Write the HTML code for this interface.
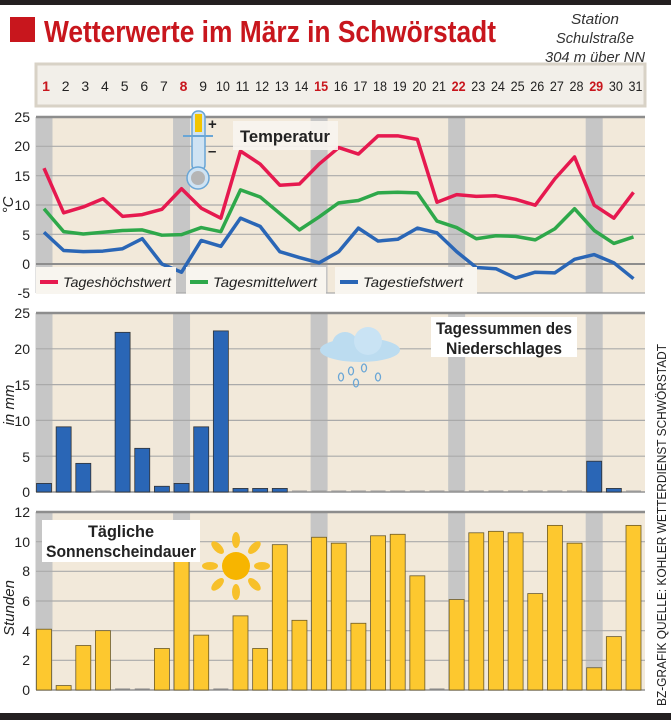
<!DOCTYPE html>
<html><head><meta charset="utf-8"><style>
body{margin:0;background:#fff;width:671px;height:720px;overflow:hidden}
svg{display:block}
text{font-family:"Liberation Sans",sans-serif}
</style></head><body>
<svg id="s" width="671" height="720" viewBox="0 0 671 720">
<rect x="0" y="0" width="671" height="5" fill="#231f20"/>
<rect x="0" y="713" width="671" height="7" fill="#231f20"/>
<rect x="10" y="17" width="25" height="25" fill="#c8161d"/>
<text x="44" y="42" font-size="31" font-weight="bold" fill="#c8161d" textLength="452" lengthAdjust="spacingAndGlyphs">Wetterwerte im März in Schwörstadt</text>
<text x="595" y="24" font-size="15" font-style="italic" fill="#333" text-anchor="middle" textLength="48" lengthAdjust="spacingAndGlyphs">Station</text>
<text x="595" y="43" font-size="15" font-style="italic" fill="#333" text-anchor="middle" textLength="78" lengthAdjust="spacingAndGlyphs">Schulstraße</text>
<text x="595" y="62" font-size="15" font-style="italic" fill="#333" text-anchor="middle" textLength="100" lengthAdjust="spacingAndGlyphs">304 m über NN</text>
<rect x="36" y="64" width="609" height="42" fill="#f2efe9" stroke="#d8d2c6" stroke-width="3"/>
<g id="days" font-size="14" text-anchor="middle" fill="#222"></g>
<g id="plots"></g>
<g font-size="14" fill="#222" text-anchor="end">
<text x="30" y="122">25</text><text x="30" y="151">20</text><text x="30" y="181">15</text><text x="30" y="210">10</text><text x="30" y="240">5</text><text x="30" y="269">0</text><text x="30" y="298">-5</text>
<text x="30" y="318">25</text><text x="30" y="354">20</text><text x="30" y="390">15</text><text x="30" y="426">10</text><text x="30" y="462">5</text><text x="30" y="497">0</text>
<text x="30" y="517">12</text><text x="30" y="547">10</text><text x="30" y="576">8</text><text x="30" y="606">6</text><text x="30" y="636">4</text><text x="30" y="665">2</text><text x="30" y="695">0</text>
</g>
<text transform="translate(13,205) rotate(-90)" font-size="15" font-style="italic" fill="#222" text-anchor="middle">°C</text>
<text transform="translate(14,405) rotate(-90)" font-size="15" font-style="italic" fill="#222" text-anchor="middle">in mm</text>
<text transform="translate(14,608) rotate(-90)" font-size="15" font-style="italic" fill="#222" text-anchor="middle">Stunden</text>
<text transform="translate(666,525) rotate(-90)" font-family="Liberation Serif" font-size="13" fill="#222" text-anchor="middle" textLength="362" lengthAdjust="spacingAndGlyphs">BZ-GRAFIK   QUELLE: KOHLER WETTERDIENST SCHWÖRSTADT</text>
<rect x="233" y="121" width="105" height="29" fill="#f8f5ef" opacity="0.9"/>
<text x="285" y="142" font-size="17" font-weight="bold" fill="#222" text-anchor="middle" textLength="90" lengthAdjust="spacingAndGlyphs">Temperatur</text>
<g>
<rect x="192" y="111" width="13" height="60" rx="6" fill="#cfe3f3" stroke="#6aa6d6" stroke-width="1.5"/>
<rect x="195" y="114" width="7" height="18" fill="#f2c500"/>
<line x1="183" y1="136" x2="213" y2="136" stroke="#6aa6d6" stroke-width="2"/>
<circle cx="198" cy="178" r="11" fill="#cfe3f3" stroke="#6aa6d6" stroke-width="1.5"/>
<circle cx="198" cy="178" r="7" fill="#b5b5b5"/>
<text x="208" y="129" font-size="15" font-weight="bold" fill="#222">+</text>
<text x="208" y="156" font-size="15" font-weight="bold" fill="#222">–</text>
</g>
<rect x="36" y="267" width="140" height="27" fill="#f8f5ef"/>
<rect x="186" y="267" width="140" height="27" fill="#f8f5ef"/>
<rect x="335" y="267" width="142" height="27" fill="#f8f5ef"/>
<line x1="40" y1="282" x2="58" y2="282" stroke="#e6194f" stroke-width="4"/>
<line x1="190" y1="282" x2="208" y2="282" stroke="#2ea84a" stroke-width="4"/>
<line x1="340" y1="282" x2="358" y2="282" stroke="#2a66b6" stroke-width="4"/>
<g font-size="14" font-style="italic" fill="#222">
<text x="63" y="287" textLength="108" lengthAdjust="spacingAndGlyphs">Tageshöchstwert</text><text x="213" y="287" textLength="104" lengthAdjust="spacingAndGlyphs">Tagesmittelwert</text><text x="363" y="287" textLength="100" lengthAdjust="spacingAndGlyphs">Tagestiefstwert</text></g>
<rect x="431" y="317" width="146" height="40" fill="#fff"/>
<text x="504" y="334" font-size="17" font-weight="bold" fill="#222" text-anchor="middle" textLength="136" lengthAdjust="spacingAndGlyphs">Tagessummen des</text>
<text x="504" y="354" font-size="17" font-weight="bold" fill="#222" text-anchor="middle" textLength="116" lengthAdjust="spacingAndGlyphs">Niederschlages</text>
<g>
<ellipse cx="360" cy="350" rx="40" ry="12" fill="#bcdcf0"/>
<circle cx="345" cy="345" r="13" fill="#bcdcf0"/><circle cx="368" cy="341" r="14" fill="#c9e3f4"/>
<g fill="none" stroke="#6aa6d6" stroke-width="1.3"><ellipse cx="351" cy="371" rx="2.5" ry="4"/><ellipse cx="364" cy="368" rx="2.5" ry="4"/><ellipse cx="356" cy="383" rx="2.5" ry="4"/><ellipse cx="378" cy="377" rx="2.5" ry="4"/><ellipse cx="341" cy="377" rx="2.5" ry="4"/></g>
</g>
<rect x="42" y="520" width="158" height="42" fill="#fff"/>
<text x="121" y="537" font-size="17" font-weight="bold" fill="#222" text-anchor="middle" textLength="66" lengthAdjust="spacingAndGlyphs">Tägliche</text>
<text x="121" y="557" font-size="17" font-weight="bold" fill="#222" text-anchor="middle" textLength="150" lengthAdjust="spacingAndGlyphs">Sonnenscheindauer</text>
<g id="sun"></g>
</svg>
<script>
const N="http://www.w3.org/2000/svg";
function el(t,a,p){const e=document.createElementNS(N,t);for(const k in a)e.setAttribute(k,a[k]);(p||document.getElementById('plots')).appendChild(e);return e;}
const X=d=>44+19.65*(d-1);
const red=[1,8,15,22,29];
const days=document.getElementById('days');
for(let d=1;d<=31;d++){const t=document.createElementNS(N,'text');t.setAttribute('x',X(d)+2);t.setAttribute('y',91);t.textContent=d;if(d>=10){t.setAttribute('textLength',14);t.setAttribute('lengthAdjust','spacingAndGlyphs');}if(red.includes(d)){t.setAttribute('fill','#c8161d');t.setAttribute('font-weight','bold');}days.appendChild(t);}
function panel(top,bot,steps){el('rect',{x:36,y:top,width:609,height:bot-top,fill:'#f2e9da'});
 red.forEach(d=>el('rect',{x:X(d)-8.5,y:top,width:17,height:bot-top,fill:'#c6c6c6'}));
 for(let i=0;i<=steps;i++){const y=top+(bot-top)*i/steps;el('line',{x1:36,x2:645,y1:y,y2:y,stroke:i==0?'#8d8d8d':'#aaa','stroke-width':i==0?2.5:1.2});}}
panel(117,293,6);
el('line',{x1:36,x2:645,y1:264,y2:264,stroke:'#8d8d8d','stroke-width':2});
panel(313,492,5);panel(512,690,6);
el('line',{x1:36,x2:645,y1:492,y2:492,stroke:'#999','stroke-width':1.5});
el('line',{x1:36,x2:645,y1:690,y2:690,stroke:'#999','stroke-width':1.5});
const mx=[16.3,8.7,9.7,11.1,8.1,8.4,9.3,12.8,9.5,7.8,19.2,17,13.4,13.6,17,19.8,18.7,21.8,21.8,21.2,10.5,11.8,11.5,11.6,11,10,14.5,18.2,10,7.8,12.2];
const me=[9.4,5.5,5.1,5.4,5.7,5.8,4.9,5,6.2,5.5,12.6,11.4,8.6,5.8,8,10.4,10.8,12.1,12.2,12.1,7.3,6.2,4.3,4.8,4.7,4.1,6,9.4,5.7,3.5,4.6];
const mn=[5.4,2.3,2.1,2.2,2.6,4.3,0,-1.4,4,3,7.8,6.4,2.1,1.1,0.2,2.1,6.1,3.9,4.2,6.1,5.3,2.1,-0.6,-0.8,-2.4,-1.4,-1.5,0.8,1.6,0.2,-2.5];
const TY=v=>264-v*5.88;
[[mn,'#2a66b6'],[me,'#2ea84a'],[mx,'#e6194f']].forEach(([a,c])=>el('polyline',{points:a.map((v,i)=>X(i+1)+','+TY(v)).join(' '),fill:'none',stroke:c,'stroke-width':3.5,'stroke-linejoin':'round'}));
const rain=[1.2,9.1,4,0.1,22.3,6.1,0.8,1.2,9.1,22.5,0.5,0.5,0.5,0.1,0.1,0.1,0.1,0.1,0.1,0.1,0.1,0.1,0.1,0.1,0.1,0.1,0.1,0.1,4.3,0.5,0.1];
rain.forEach((v,i)=>{const h=Math.max(v*7.16,1.5);el('rect',{x:X(i+1)-7.5,y:492-h,width:15,height:h,fill:v<0.2?'#999':'#2a66b6',stroke:'#333','stroke-width':v<0.2?0:0.8});});
const sun=[4.1,0.3,3.0,4.0,0,0,2.8,8.7,3.7,0,5.0,2.8,9.8,4.7,10.3,9.9,4.5,10.4,10.5,7.7,0,6.1,10.6,10.7,10.6,6.5,11.1,9.9,1.5,3.6,11.1];
sun.forEach((v,i)=>{const h=Math.max(v*14.83,1.5);el('rect',{x:X(i+1)-7.5,y:690-h,width:15,height:h,fill:v==0?'#888':'#fdc82f',stroke:'#6b5a2a','stroke-width':v==0?0:0.8});});
const s=document.getElementById('s');const p=document.getElementById('plots');s.insertBefore(p,s.children[7]);
const sg=document.getElementById('sun');
el('circle',{cx:236,cy:566,r:14,fill:'#f7b500'},sg);
for(let k=0;k<8;k++){const a=k*Math.PI/4;el('ellipse',{cx:236+26*Math.cos(a),cy:566+26*Math.sin(a),rx:4,ry:8,fill:'#f7c02a',transform:`rotate(${k*45+90} ${236+26*Math.cos(a)} ${566+26*Math.sin(a)})`},sg);}
</script>
</body></html>
